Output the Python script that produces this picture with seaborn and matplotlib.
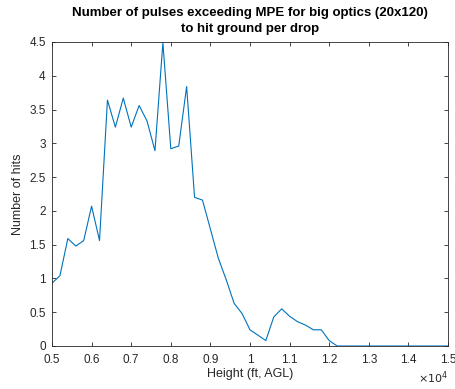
import matplotlib
matplotlib.use("Agg")
import matplotlib.pyplot as plt
import seaborn as sns
import pandas as pd
from matplotlib.ticker import FuncFormatter, MultipleLocator

heights = [5000, 5200, 5400, 5600, 5800, 6000, 6200, 6400, 6600, 6800,
           7000, 7200, 7400, 7600, 7800, 8000, 8200, 8400, 8600, 8800,
           9000, 9200, 9400, 9600, 9800, 10000, 10200, 10400, 10600, 10800,
           11000, 11200, 11400, 11600, 11800, 12000, 12200, 12400, 12600, 12800,
           13000, 13200, 13400, 13600, 13800, 14000, 14200, 14400, 14600, 14800,
           15000]
hits = [0.93, 1.04, 1.59, 1.48, 1.56, 2.07, 1.56, 3.64, 3.24, 3.67,
        3.24, 3.56, 3.33, 2.89, 4.49, 2.92, 2.96, 3.84, 2.20, 2.16,
        1.73, 1.30, 0.98, 0.63, 0.48, 0.24, 0.16, 0.08, 0.43, 0.55,
        0.44, 0.36, 0.31, 0.24, 0.24, 0.08, 0.0, 0.0, 0.0, 0.0,
        0.0, 0.0, 0.0, 0.0, 0.0, 0.0, 0.0, 0.0, 0.0, 0.0,
        0.0]
title = "Number of pulses exceeding MPE for big optics (20x120)\nto hit ground per drop"
xlabel = "Height (ft, AGL)"
ylabel = "Number of hits"

sns.set_style("white")
plt.rcParams['font.family'] = ['Liberation Sans', 'DejaVu Sans']

df = pd.DataFrame({"height": heights, "hits": hits})

fig = plt.figure(figsize=(4.56, 3.89), dpi=100)
ax = fig.add_axes([52/456, 1 - 346/389, (448 - 52)/456, (346 - 42)/389])
sns.lineplot(data=df, x="height", y="hits", ax=ax, color="#0072BD", linewidth=0.8)

ax.set_xlim(5000, 15000)
ax.set_ylim(0, 4.5)
ax.xaxis.set_major_locator(MultipleLocator(1000))
ax.yaxis.set_major_locator(MultipleLocator(0.5))
ax.xaxis.set_major_formatter(FuncFormatter(lambda v, p: f"{v/1e4:g}"))
ax.yaxis.set_major_formatter(FuncFormatter(lambda v, p: f"{v:g}"))

dark = "#262626"
for s in ax.spines.values():
    s.set_visible(True)
    s.set_color(dark)
    s.set_linewidth(0.6)
ax.tick_params(direction="in", length=3, width=0.6, colors=dark, labelsize=8.5,
               top=True, right=True, bottom=True, left=True)
ax.tick_params(axis="x", pad=5.5)
ax.tick_params(axis="y", pad=4.5)
for lab in ax.get_xticklabels() + ax.get_yticklabels():
    lab.set_color(dark)

ax.set_xlabel(xlabel, fontsize=9, color=dark, labelpad=2)
ax.set_ylabel(ylabel, fontsize=9, color=dark, labelpad=4)
ax.set_title(title, fontsize=9.5, fontweight="bold", color="black", pad=7, linespacing=1.45)
ax.text(1.0, -0.078, r"$\times10^{4}$", transform=ax.transAxes, ha="right", va="top",
        fontsize=8, color=dark)

fig.savefig("out.png", dpi=100)
